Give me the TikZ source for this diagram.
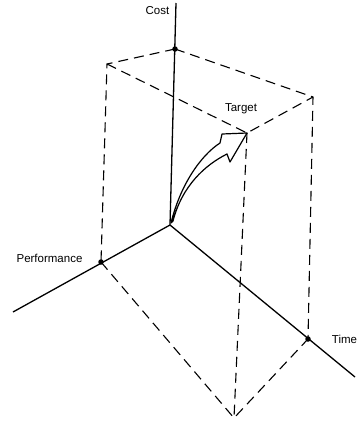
\documentclass[tikz,border=0pt]{standalone}
\usepackage{fontspec}
\setmainfont{Liberation Sans}
\begin{document}
\begin{tikzpicture}[x=1pt,y=-1pt,
  axis/.style={line width=1.3pt},
  guide/.style={line width=1.1pt, dash pattern=on 10pt off 6pt},
  dot/.style={circle, fill=black, inner sep=0pt, minimum size=5.5pt},
  lbl/.style={inner sep=0pt, font=\fontsize{11.5}{13}\selectfont},
  bigarrow/.style={line width=1.2pt, fill=white, line join=round}]
\useasboundingbox (0,0) rectangle (362,424);
% axis points
\coordinate (O) at (170,225);
\coordinate (costend) at (176,3);
\coordinate (perfend) at (13,312);
\coordinate (timeend) at (355,377);
% box corners
\coordinate (TL) at (107,64);
\coordinate (TR) at (313,97);
\coordinate (target) at (247,133);
\coordinate (B) at (234,418);
\node[dot] (C) at (175,49) {};
\node[dot] (P) at (101,262) {};
\node[dot] (T) at (308,339) {};
% axes
\draw[axis] (O) -- (costend);
\draw[axis] (O) -- (perfend);
\draw[axis] (O) -- (timeend);
% dashed guides
\draw[guide] (C.center) -- (TL) -- (P.center);
\draw[guide] (C.center) -- (TR) -- (T.center);
\draw[guide] (TL) -- (target) -- (TR);
\draw[guide] (target) -- (B);
\draw[guide] (P.center) -- (B) -- (T.center);
% curved hollow arrow
\draw[bigarrow] (171,223) .. controls (180,186) and (200,156) .. (220,143)
  -- (222,134) -- (target) -- (230,162) -- (227,154)
  .. controls (205,165) and (182,186) .. (173,221) -- cycle;
% labels
\node[lbl] (costlbl) at (157.5,11) {Cost};
\node[lbl] (perflbl) at (49.5,258) {Performance};
\node[lbl] (targetlbl) at (241,108.5) {Target};
\node[lbl] (timelbl) at (344.5,339) {Time};
\end{tikzpicture}
\end{document}
